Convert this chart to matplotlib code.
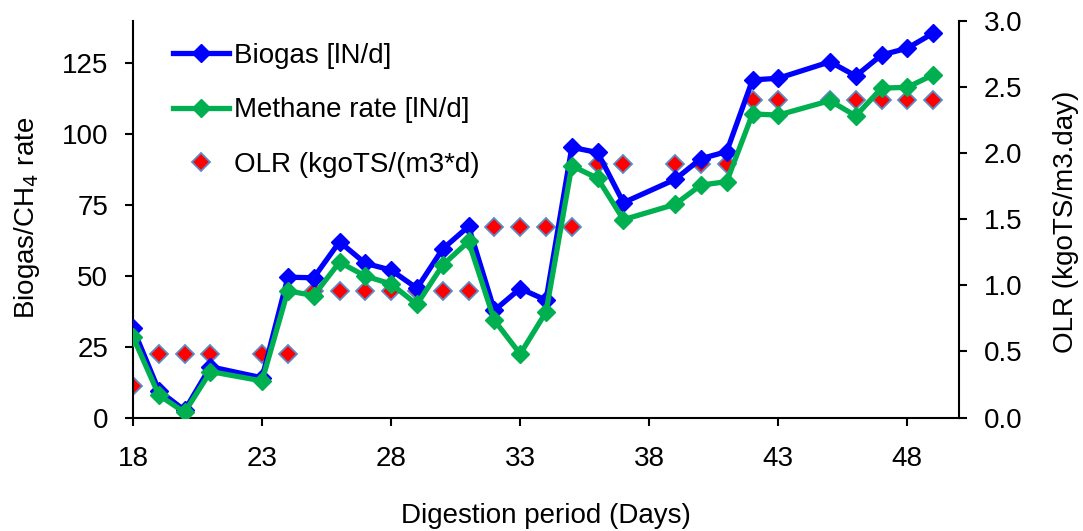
import matplotlib
matplotlib.use("Agg")
import matplotlib.pyplot as plt
from matplotlib.ticker import FixedLocator, FormatStrFormatter

plt.rcParams['font.family'] = ['Liberation Sans', 'DejaVu Sans']

days = [18, 19, 20, 21, 23, 24, 25, 26, 27, 28, 29, 30, 31, 32, 33, 34, 35,
        36, 37, 39, 40, 41, 42, 43, 45, 46, 47, 48, 49]
biogas = [31.5, 9.5, 2.5, 17.9, 14.0, 49.5, 49.3, 62.0, 54.4, 52.0, 45.6, 59.5,
          67.4, 37.8, 45.5, 41.4, 95.3, 93.5, 75.8, 84.0, 91.3, 93.8, 119.1,
          119.7, 125.5, 120.5, 127.9, 130.3, 135.6]
methane = [28.5, 7.9, 1.8, 16.2, 12.9, 44.7, 43.0, 54.8, 49.9, 47.1, 39.9, 53.8,
           62.1, 34.3, 22.4, 37.2, 88.8, 84.4, 69.8, 75.2, 82.0, 83.2, 107.1,
           106.7, 111.8, 106.4, 116.2, 116.5, 120.9]
olr_days = [18, 19, 20, 21, 23, 24, 25, 26, 27, 28, 29, 30, 31, 32, 33, 34, 35,
            36, 37, 39, 40, 41, 42, 43, 45, 46, 47, 48, 49]
olr = [0.24, 0.48, 0.48, 0.48, 0.48, 0.48, 0.96, 0.96, 0.96, 0.96, 0.96, 0.96,
       0.96, 1.44, 1.44, 1.44, 1.44, 1.92, 1.92, 1.92, 1.92, 1.92, 2.4, 2.4,
       2.4, 2.4, 2.4, 2.4, 2.4]

x_ticks = [18, 23, 28, 33, 38, 43, 48]
left_ticks = [0, 25, 50, 75, 100, 125]
right_ticks = [0.0, 0.5, 1.0, 1.5, 2.0, 2.5, 3.0]

fig = plt.figure(figsize=(10.83, 5.31), dpi=100)
ax = fig.add_axes([133/1083, 1 - 417.5/531, (959-133)/1083, (417.5-20.7)/531])
ax2 = ax.twinx()

l1, = ax.plot(days, biogas, color='#0000FF', lw=3.8, marker='D', ms=9.3,
              mec='#0000FF', label='Biogas [lN/d]', zorder=4)
l2, = ax.plot(days, methane, color='#00B050', lw=3.8, marker='D', ms=9.3,
              mec='#00B050', label='Methane rate [lN/d]', zorder=4)
l3, = ax2.plot(olr_days, olr, ls='none', marker='D', ms=9.5, mfc='#FF0000',
               mec='#5B8BC6', mew=1.3, label='OLR (kgoTS/(m3*d)', zorder=5)

ax.set_zorder(ax2.get_zorder() + 1)
ax.patch.set_visible(False)

ax.set_xlim(18, 50)
ax.set_ylim(0, 140)
ax2.set_ylim(0, 3.0)

ax.xaxis.set_major_locator(FixedLocator(x_ticks))
ax.yaxis.set_major_locator(FixedLocator(left_ticks))
ax2.yaxis.set_major_locator(FixedLocator(right_ticks))
ax2.yaxis.set_major_formatter(FormatStrFormatter('%.1f'))

for a in (ax, ax2):
    a.spines['top'].set_visible(False)
    for s in a.spines.values():
        s.set_linewidth(1.5)
ax.spines['right'].set_visible(False)
ax2.spines['left'].set_visible(False)
ax2.spines['bottom'].set_visible(False)

fs = 20
ax.tick_params(axis='x', direction='out', length=5.8, width=1.5, pad=15, labelsize=fs)
ax.tick_params(axis='y', direction='out', length=5.8, width=1.5, pad=12, labelsize=fs)
ax2.tick_params(axis='y', direction='out', length=5.8, width=1.5, pad=12, labelsize=fs)

ax.set_xlabel('Digestion period (Days)', fontsize=fs, va='center')
ax.xaxis.set_label_coords(0.5, (417.5 - 516) / 396.8)
ax.set_ylabel('Biogas/CH$_4$ rate', fontsize=fs, va='center')
ax.yaxis.set_label_coords((27 - 133) / 826, (417.5 - 218) / 396.8)
ax2.set_ylabel('OLR (kgoTS/m3.day)', fontsize=fs, va='center')
ax2.yaxis.set_label_coords((1066 - 133) / 826, (417.5 - 222) / 396.8)

leg = ax.legend(handles=[l1, l2, l3], loc='upper left',
                bbox_to_anchor=(0.035, 0.972),
                frameon=False, fontsize=fs, handlelength=2.0, labelspacing=1.02,
                handletextpad=0.2, borderaxespad=0)

fig.savefig('out.png', dpi=100)
